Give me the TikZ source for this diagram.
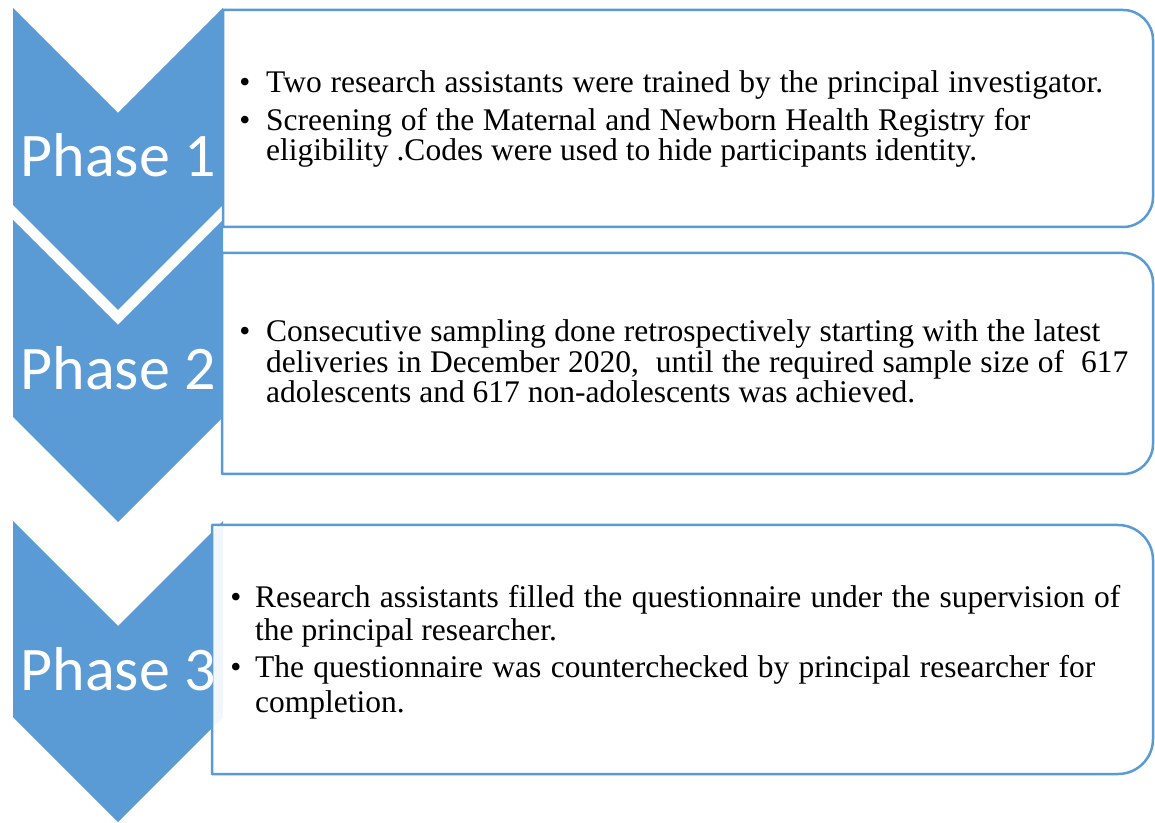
\documentclass[tikz,border=0pt]{standalone}
\usepackage{fontspec}
\setmainfont{Liberation Serif}
\newfontfamily\phasefont{Carlito}
\definecolor{phaseblue}{HTML}{5B9BD5}
% a justified line of given width
\newcommand{\jline}[2]{\makebox[#1pt][s]{#2}}
\begin{document}
\begin{tikzpicture}[x=1pt,y=1pt,
  chevron/.style={fill=phaseblue,draw=none},
  textbox/.style={draw=phaseblue,line width=2.5pt,fill=white,fill opacity=0.92,line join=round},
  phaselabel/.style={font=\phasefont\fontsize{62}{64}\selectfont,text=white,anchor=base,inner sep=0pt},
  bodyline/.style={font=\fontsize{31.5}{34}\selectfont,anchor=base west,inner sep=0pt},
  bulletmark/.style={font=\fontsize{31.5}{34}\selectfont,anchor=base,inner sep=0pt}]
\useasboundingbox (0,0) rectangle (1155,822);

% chevrons
\path[chevron] (13,814) -- (118,709) -- (223,814) -- (223,617) -- (118,512) -- (13,617) -- cycle;
\path[chevron] (13,602) -- (118,497) -- (223,602) -- (223,405) -- (118,300) -- (13,405) -- cycle;
\path[chevron] (13,301) -- (118,196) -- (223,301) -- (223,105) -- (118,0) -- (13,105) -- cycle;

% text boxes, rounded on the right only
\path[textbox] (223,812) -- (1123,812) arc[start angle=90,end angle=0,radius=30]
  -- (1153,625) arc[start angle=0,end angle=-90,radius=30] -- (223,595) -- cycle;
\path[textbox] (222,569) -- (1123,569) arc[start angle=90,end angle=0,radius=30]
  -- (1153,378) arc[start angle=0,end angle=-90,radius=30] -- (222,348) -- cycle;
\path[textbox] (212,297) -- (1118,297) arc[start angle=90,end angle=0,radius=35]
  -- (1153,83) arc[start angle=0,end angle=-90,radius=35] -- (212,48) -- cycle;

% phase labels
\node[phaselabel] (p1) at (118,645) {Phase 1};
\node[phaselabel] (p2) at (118,432) {Phase 2};
\node[phaselabel] (p3) at (118,132) {Phase 3};

% phase 1 text
\node[bulletmark] (b1a) at (245,729) {\textbullet};
\node[bodyline] (t1a) at (266,729) {\jline{837}{Two research assistants were trained by the principal investigator.}};
\node[bulletmark] (b1b) at (245,691) {\textbullet};
\node[bodyline] (t1b) at (266,691) {\jline{764}{Screening of the Maternal and Newborn Health Registry for}};
\node[bodyline] (t1c) at (266,661) {eligibility .Codes were used to hide participants identity.};

% phase 2 text
\node[bulletmark] (b2a) at (245,480) {\textbullet};
\node[bodyline] (t2a) at (266,480) {\jline{834}{Consecutive sampling done retrospectively starting with the latest}};
\node[bodyline] (t2b) at (266,449) {\jline{862}{deliveries in December 2020,\ \ until the required sample size of\ \ 617}};
\node[bodyline] (t2c) at (266,419) {adolescents and 617 non-adolescents was achieved.};

% phase 3 text
\node[bulletmark] (b3a) at (236,215) {\textbullet};
\node[bodyline] (t3a) at (255,215) {\jline{865}{Research assistants filled the questionnaire under the supervision of}};
\node[bodyline] (t3b) at (255,182) {the principal researcher.};
\node[bulletmark] (b3b) at (236,145) {\textbullet};
\node[bodyline] (t3c) at (255,145) {\jline{840}{The questionnaire was counterchecked by principal researcher for}};
\node[bodyline] (t3d) at (255,110) {completion.};
\end{tikzpicture}
\end{document}
